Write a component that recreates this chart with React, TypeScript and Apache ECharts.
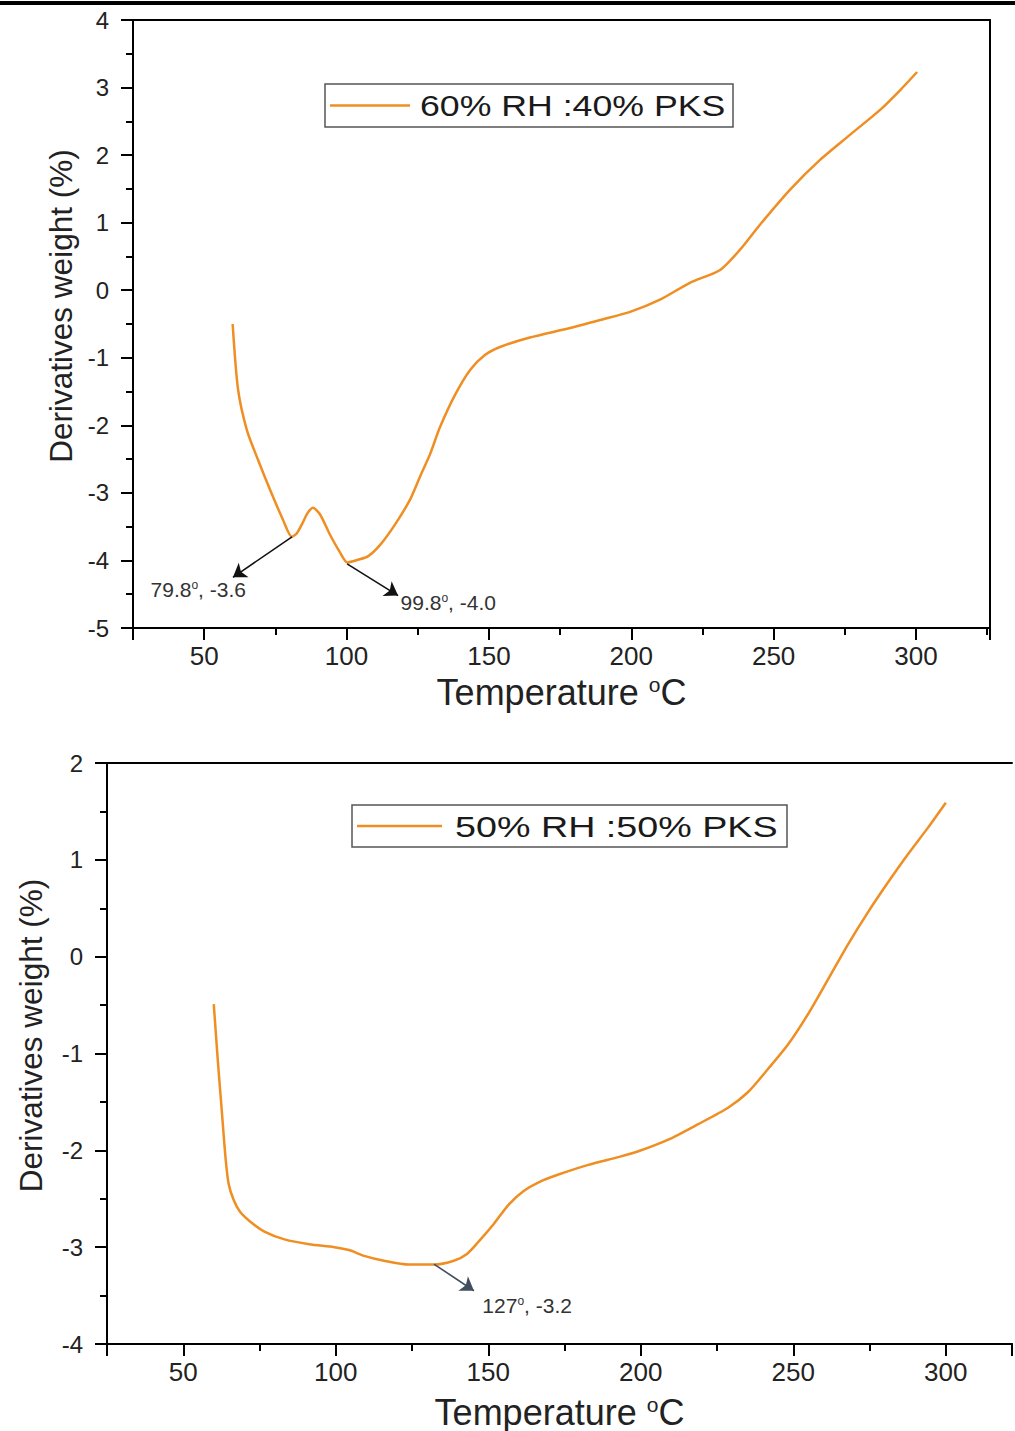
import React, { useEffect, useRef } from "react";
import * as echarts from "echarts";

// ---- Data ----
const topLegend = "60% RH :40% PKS";
const bottomLegend = "50% RH :50% PKS";

const topX = [60, 61.9, 65, 68.9, 73.1, 77.7, 80.8, 82.5, 84.5, 86.3, 88.2, 90.7, 94.2, 97.7, 100.3, 104, 107.5, 111.8, 117, 122.3, 125.8, 129.3, 132.8, 138.1, 143.4, 148.6, 153.9, 164.4, 178.5, 189, 199.6, 210.1, 220.6, 231.2, 238.2, 245.2, 255.8, 266.3, 276.8, 287.4, 294.4, 300.4];
const topY = [-0.5, -1.47, -2.07, -2.51, -2.95, -3.4, -3.65, -3.6, -3.45, -3.3, -3.22, -3.32, -3.62, -3.88, -4.03, -3.99, -3.94, -3.77, -3.47, -3.1, -2.76, -2.43, -2.03, -1.55, -1.18, -0.96, -0.84, -0.7, -0.56, -0.44, -0.32, -0.14, 0.11, 0.3, 0.6, 0.97, 1.49, 1.93, 2.3, 2.67, 2.96, 3.23];

const bottomX = [60, 61.3, 62.6, 63.9, 64.9, 66.5, 68.5, 71.7, 76.6, 83.2, 91.3, 99.5, 104.4, 109.3, 115.8, 124, 132.2, 138.7, 143, 146.9, 151.8, 156.7, 161.6, 166.5, 173, 182.8, 192.6, 199.2, 209, 218.8, 228.6, 235.1, 241.7, 248.2, 254.7, 261.3, 267.8, 274.3, 280.9, 287.4, 294.1, 300];
const bottomY = [-0.49, -1.06, -1.58, -2.09, -2.35, -2.51, -2.63, -2.73, -2.84, -2.92, -2.97, -3.0, -3.03, -3.09, -3.14, -3.18, -3.18, -3.14, -3.07, -2.94, -2.76, -2.56, -2.42, -2.33, -2.25, -2.15, -2.07, -2.01, -1.89, -1.73, -1.56, -1.4, -1.16, -0.91, -0.6, -0.24, 0.12, 0.45, 0.76, 1.05, 1.33, 1.59];

const topPeaks = [
  { from: [80.85, -3.65], to: [60.1, -4.25], labelAt: [31, -4.43], t: "79.8", v: "-3.6" },
  { from: [100.2, -4.05], to: [118.1, -4.52], labelAt: [118.8, -4.62], t: "99.8", v: "-4.0" },
];
const bottomPeaks = [
  { from: [132.2, -3.175], to: [145.3, -3.45], labelAt: [147.9, -3.6], t: "127", v: "-3.2" },
];

const xTitle = "Temperature {s|o}C";
const yTitle = "Derivatives weight (%)";

const FONT = "Liberation Sans, Arial, sans-serif";
const ORANGE = "#EF8E22";

export default function App() {
  const ref = useRef<HTMLDivElement>(null);
  useEffect(() => {
    if (!ref.current) return;
    const chart = echarts.init(ref.current, null, { renderer: "svg" });

    const axisLineStyle = { color: "#000", width: 2 };
    const xLabelFmt = (v: number) => (Math.abs(v % 50) < 1e-6 ? String(v) : "");

    const mainX = (gridIndex: number, max: number, gap: number) => ({
      type: "value",
      gridIndex,
      position: "bottom",
      min: 25,
      max,
      minInterval: 50,
      maxInterval: 50,
      splitLine: { show: false },
      axisLine: { onZero: false, lineStyle: axisLineStyle },
      axisTick: { show: true, length: 12, lineStyle: axisLineStyle },
      axisLabel: { fontSize: 26, color: "#222", fontFamily: FONT, margin: 15, formatter: xLabelFmt },
      name: xTitle,
      nameLocation: "middle",
      nameGap: gap,
      nameTextStyle: {
        fontSize: 36,
        color: "#222",
        fontFamily: FONT,
        rich: { s: { fontSize: 21, color: "#222", fontFamily: FONT, verticalAlign: "top" } },
      },
    });
    const minorX = (gridIndex: number, max: number) => ({
      type: "value",
      gridIndex,
      position: "bottom",
      min: 25,
      max,
      interval: 25,
      splitLine: { show: false },
      axisLine: { onZero: false, lineStyle: axisLineStyle },
      axisTick: { show: true, length: 7, lineStyle: axisLineStyle },
      axisLabel: { show: false },
    });
    const borderX = (gridIndex: number, max: number) => ({
      type: "value",
      gridIndex,
      position: "top",
      min: 25,
      max,
      splitLine: { show: false },
      axisLine: { onZero: false, lineStyle: axisLineStyle },
      axisTick: { show: false },
      axisLabel: { show: false },
    });
    const leftY = (gridIndex: number, min: number, max: number, gap: number) => ({
      type: "value",
      gridIndex,
      position: "left",
      min,
      max,
      interval: 1,
      splitLine: { show: false },
      axisLine: { onZero: false, lineStyle: axisLineStyle },
      axisTick: { show: true, length: 12, lineStyle: axisLineStyle },
      minorTick: { show: true, splitNumber: 2, length: 7, lineStyle: axisLineStyle },
      axisLabel: { fontSize: 24, color: "#222", fontFamily: FONT, margin: 24 },
      name: yTitle,
      nameLocation: "middle",
      nameRotate: 90,
      nameGap: gap,
      nameTextStyle: { fontSize: 31.5, color: "#222", fontFamily: FONT, padding: [0, 0, 0, 36] },
    });

    const labelRich = {
      s: { fontSize: 12, color: "#333", fontFamily: FONT, verticalAlign: "top" },
    };
    const makeMarks = (peaks: any[], lineColor: string) => ({
      markLine: {
        silent: true,
        symbol: ["none", "arrow"],
        symbolSize: 13,
        lineStyle: { color: lineColor, width: 1.6, type: "solid" },
        label: { show: false },
        emphasis: { disabled: true },
        data: peaks.map((p) => [{ coord: p.from }, { coord: p.to }]),
      },
      markPoint: {
        silent: true,
        data: peaks.map((p) => ({
          coord: p.labelAt,
          symbol: "circle",
          symbolSize: 1,
          itemStyle: { color: "rgba(0,0,0,0)" },
          label: {
            show: true,
            position: "right",
            distance: 0,
            fontSize: 21,
            color: "#333",
            fontFamily: FONT,
            formatter: `${p.t}{s|o}, ${p.v}`,
            rich: labelRich,
          },
        })),
      },
    });

    const legendBox = (x: number, y: number, w: number, h: number, lineEnd: number, textX: number, text: string, scaleX: number) => ({
      type: "group",
      children: [
        { type: "rect", shape: { x, y, width: w, height: h }, style: { fill: "#fff", stroke: "#555", lineWidth: 1.5 }, z: 10 },
        { type: "line", shape: { x1: x + 5, y1: y + h / 2, x2: lineEnd, y2: y + h / 2 }, style: { stroke: ORANGE, lineWidth: 2.5 }, z: 11 },
        {
          type: "text",
          x: textX,
          y: y + h / 2 + 1,
          scaleX,
          z: 11,
          style: { text, fontSize: 29, fontFamily: FONT, fill: "#1a1a1a", verticalAlign: "middle", align: "left" },
        },
      ],
    });

    chart.setOption({
      animation: false,
      backgroundColor: "#fff",
      grid: [
        { left: 133, top: 20, width: 857, height: 608 },
        { left: 107, top: 763, width: 908, height: 582 },
      ],
      xAxis: [
        mainX(0, 326, 46),
        minorX(0, 326),
        borderX(0, 326),
        mainX(1, 321.7, 50),
        minorX(1, 321.7),
        borderX(1, 321.7),
      ],
      yAxis: [
        leftY(0, -5, 4, 56),
        {
          type: "value",
          gridIndex: 0,
          position: "right",
          min: -5,
          max: 4,
          splitLine: { show: false },
          axisLine: { onZero: false, lineStyle: axisLineStyle },
          axisTick: { show: false },
          axisLabel: { show: false },
        },
        leftY(1, -4, 2, 60),
      ],
      series: [
        {
          name: topLegend,
          type: "line",
          xAxisIndex: 0,
          yAxisIndex: 0,
          data: topX.map((x, i) => [x, topY[i]]),
          showSymbol: false,
          symbol: "none",
          smooth: 0.25,
          lineStyle: { color: ORANGE, width: 2.5 },
          itemStyle: { color: ORANGE },
          ...makeMarks(topPeaks, "#111"),
        },
        {
          name: bottomLegend,
          type: "line",
          xAxisIndex: 3,
          yAxisIndex: 2,
          data: bottomX.map((x, i) => [x, bottomY[i]]),
          showSymbol: false,
          symbol: "none",
          smooth: 0.25,
          lineStyle: { color: ORANGE, width: 2.5 },
          itemStyle: { color: ORANGE },
          ...makeMarks(bottomPeaks, "#3f4f60"),
        },
      ],
      graphic: [
        { type: "rect", shape: { x: 0, y: 1, width: 1015, height: 4 }, style: { fill: "#000" } },
        legendBox(325, 84, 408, 43, 410, 420, topLegend, 1.23),
        legendBox(352, 805, 435, 42, 442, 455, bottomLegend, 1.3),
      ],
    });

    return () => chart.dispose();
  }, []);

  return (
    <div
      ref={ref}
      style={{ position: "absolute", left: 0, top: 0, width: 1015, height: 1431, background: "#fff" }}
    />
  );
}
